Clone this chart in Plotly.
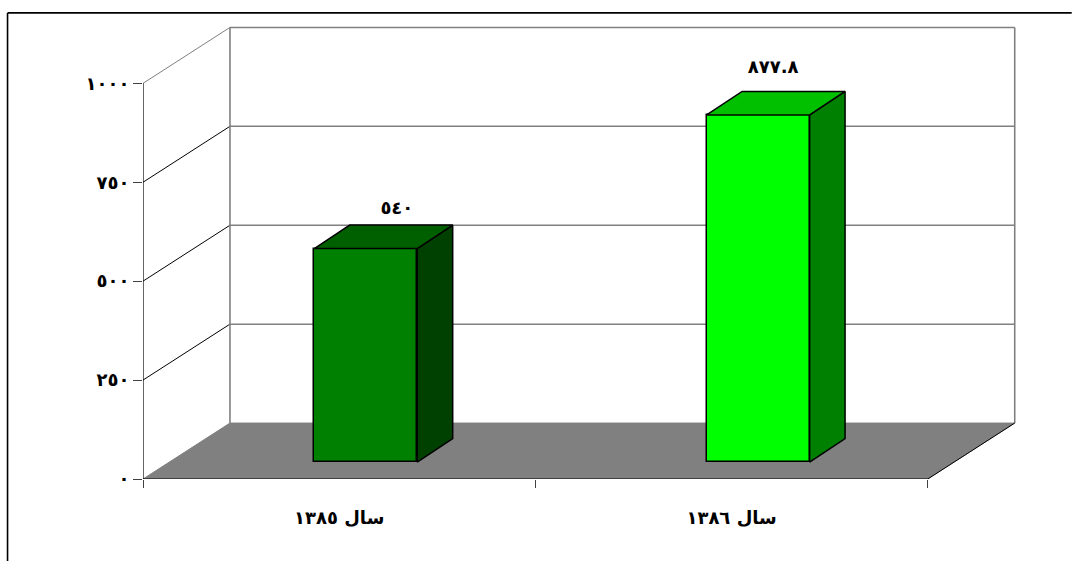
import plotly.graph_objects as go

# Data
categories = ["سال ١٣٨٥", "سال ١٣٨٦"]
values = [540, 877.8]
value_labels = ["٥٤٠", "٨٧٧.٨"]
y_ticks = [0, 250, 500, 750, 1000]
y_tick_labels = ["٠", "٢٥٠", "٥٠٠", "٧٥٠", "١٠٠٠"]
cat_pos = [0.5, 1.5]

# Colours per bar
front_colors = ["#008000", "#00FF00"]
top_colors = ["#006000", "#00C000"]
side_colors = ["#004000", "#008000"]

# Geometry of the fake 3D box, in axis units
W, H = 1072, 561
PX_X, PX_Y = 392.5, 0.396   # pixels per axis unit
DX, DY = 87 / PX_X, 56 / PX_Y  # wall depth
XMAX, YMAX = 2.23, 1150
F0, F1 = 0.30, 0.72      # bar front / back depth fraction
BAR_W = 103 / PX_X
BASE = F0 * DY
centers = [c + F0 * DX + 0.5 / PX_X for c in cat_pos]
LBL_DX = [0.147, 0.106]
LBL_DY = [-2, 16]
GRAY = "#808080"
FONT = dict(family="DejaVu Sans", size=18, color="#000000", weight="bold")

L, B = 143, 82
plot_w, plot_h = XMAX * PX_X, YMAX * PX_Y
T, R = H - B - plot_h, W - L - plot_w

shapes = []
def seg(x0, y0, x1, y1, color, width):
    shapes.append(dict(type="line", xref="x", yref="y", x0=x0, y0=y0, x1=x1, y1=y1,
                       line=dict(color=color, width=width), layer="below"))

# floor
shapes.append(dict(type="path", xref="x", yref="y", layer="below", fillcolor=GRAY,
                   line=dict(color=GRAY, width=1),
                   path=f"M0,0 L{DX},{DY} L{2+DX},{DY} L2,0 Z"))
# back wall + side wall grid
for t in y_ticks[1:]:
    seg(DX, t + DY, 2 + DX, t + DY, GRAY, 1.5)
    seg(0, t, DX, t + DY, GRAY if t == y_ticks[-1] else "#000000", 1)
seg(DX, DY, DX, y_ticks[-1] + DY, GRAY, 1.6)
seg(2 + DX, DY, 2 + DX, y_ticks[-1] + DY, GRAY, 1.6)
seg(2, 0, 2 + DX, DY, "#000000", 1)

# outer L-shaped frame
fx = (7.5 - L) / plot_w
fy = (H - B - 12.5) / plot_h
for x0, y0, x1, y1 in [(fx, fy, (W - L) / plot_w, fy), (fx, fy, fx, -B / plot_h)]:
    shapes.append(dict(type="line", xref="paper", yref="paper", x0=x0, y0=y0, x1=x1, y1=y1,
                       line=dict(color="#000000", width=1.6), layer="below"))

fig = go.Figure()

# front faces
fig.add_trace(go.Bar(x=centers, y=values, base=[BASE] * len(values), width=BAR_W,
                     marker=dict(color=front_colors, line=dict(color="#000000", width=1.5)),
                     hoverinfo="skip", showlegend=False))

ddx, ddy = (F1 - F0) * DX * 0.97, (F1 - F0) * DY
edge = dict(color="#000000", width=1.5)
for c, v, tc, sc in zip(centers, values, top_colors, side_colors):
    xl, xr, yt = c - BAR_W / 2, c + BAR_W / 2, BASE + v
    # side face
    fig.add_trace(go.Scatter(x=[xr, xr + ddx, xr + ddx, xr, xr],
                             y=[BASE, BASE + ddy, yt + ddy, yt, BASE],
                             mode="lines", fill="toself", fillcolor=sc, line=edge,
                             hoverinfo="skip", showlegend=False))
    # top face
    fig.add_trace(go.Scatter(x=[xl, xl + ddx, xr + ddx, xr, xl],
                             y=[yt, yt + ddy, yt + ddy, yt, yt],
                             mode="lines", fill="toself", fillcolor=tc, line=edge,
                             hoverinfo="skip", showlegend=False))

# vertical axis line, stops at the last tick
fig.add_trace(go.Scatter(x=[0, 0], y=[y_ticks[0], y_ticks[-1]], mode="lines",
                         line=dict(color="#000000", width=1.2), cliponaxis=False,
                         hoverinfo="skip", showlegend=False))

# value labels
fig.add_trace(go.Scatter(
    x=[c + d for c, d in zip(cat_pos, LBL_DX)],
    y=[v + F1 * DY + BASE + d for v, d in zip(values, LBL_DY)],
    mode="text", text=value_labels, textposition="middle center",
    textfont=FONT, hoverinfo="skip", showlegend=False, cliponaxis=False))

# bottom axis line between the first and last category boundary
fig.add_trace(go.Scatter(x=[0, 2], y=[0, 0], mode="lines",
                         line=dict(color="#000000", width=1.2), cliponaxis=False,
                         hoverinfo="skip", showlegend=False))

fig.update_layout(
    width=W, height=H, autosize=False,
    margin=dict(l=L, r=R, t=T, b=B, pad=0),
    paper_bgcolor="#FFFFFF", plot_bgcolor="#FFFFFF",
    shapes=shapes, showlegend=False, bargap=0,
    font=FONT,
    xaxis=dict(range=[0, XMAX], tickmode="array", tickvals=cat_pos, ticktext=categories,
               ticks="", showgrid=False, zeroline=False, showline=False,
               ticklabelstandoff=26, tickfont=FONT,
               minor=dict(tickmode="array", tickvals=[0, 1, 2], ticks="outside", ticklen=8,
                          tickwidth=1, tickcolor="#404040", showgrid=False)),
    yaxis=dict(range=[0, YMAX], tickmode="array", tickvals=y_ticks, ticktext=y_tick_labels,
               ticks="outside", ticklen=9, tickwidth=1, tickcolor="#404040",
               showgrid=False, zeroline=False, showline=False, ticklabelstandoff=0,
               tickfont=FONT),
)

fig.write_html("out.html", config=dict(displayModeBar=False),
               post_script="document.body.style.margin='0';")
